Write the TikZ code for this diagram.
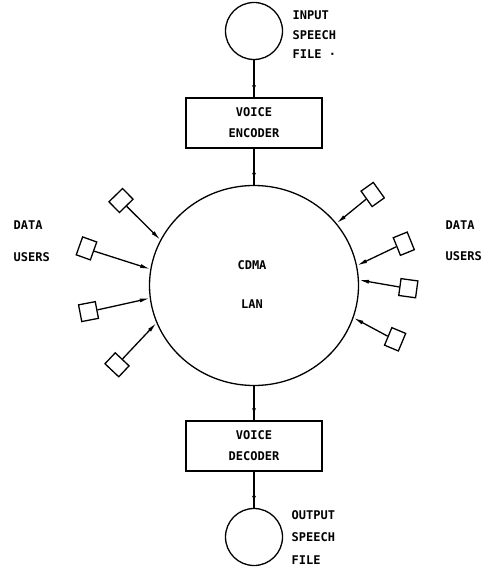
\documentclass[tikz,border=0pt]{standalone}
\usepackage{fontspec}
\usetikzlibrary{shapes.geometric,arrows.meta,decorations.markings}
\newfontfamily\monofam{DejaVu Sans Mono}
\newcommand\labfont{\monofam\bfseries\fontsize{12pt}{21pt}\selectfont}
\begin{document}
\begin{tikzpicture}[x=1pt,y=-1pt,
  line width=1.3pt,
  lbl/.style={font=\labfont, inner sep=0pt, anchor=west},
  ctext/.style={font=\labfont, inner sep=0pt},
  filecircle/.style={draw, circle, minimum size=57pt, inner sep=0pt},
  codecbox/.style={draw, rectangle, minimum width=136pt, minimum height=50pt, inner sep=0pt, align=center, font=\labfont},
  ubox/.style={draw, rectangle, minimum width=15pt, minimum height=19pt, inner sep=0pt},
  sqbox/.style={draw, rectangle, minimum width=17pt, minimum height=17pt, inner sep=0pt},
  varrow/.style={postaction={decorate}, decoration={markings, mark=at position -6pt with {\arrow{Latex[length=6pt,width=4pt]}}}},
  uarrow/.style={-{Latex[length=10pt,width=4pt]}}
]
\useasboundingbox (0,0) rectangle (489,569);

% main column
\node[filecircle] (in) at (254,31) {};
\node[codecbox] (enc) at (254,123) {VOICE\\ENCODER};
\node[draw, ellipse, minimum width=209pt, minimum height=200pt, inner sep=0pt] (lan) at (254,285.5) {};
\node[ctext] (cdma) at (252,265) {CDMA};
\node[ctext] (lantxt) at (252,304) {LAN};
\node[codecbox] (dec) at (254,446) {VOICE\\DECODER};
\node[filecircle] (out) at (254,537) {};

\draw[varrow] (in.south) -- (enc.north);
\draw[varrow] (enc.south) -- (lan.north);
\draw[varrow] (lan.south) -- (dec.north);
\draw[varrow] (dec.south) -- (out.north);

% file labels
\node[lbl] (inl1) at (292,15) {INPUT};
\node[lbl] (inl2) at (292,35) {SPEECH};
\node[lbl] (inl3) at (292,54) {FILE ·};
\node[lbl] (outl1) at (291,515) {OUTPUT};
\node[lbl] (outl2) at (291,537) {SPEECH};
\node[lbl] (outl3) at (291,560) {FILE};

% data users labels
\node[lbl] (dl1) at (13,225) {DATA};
\node[lbl] (dl2) at (13,257) {USERS};
\node[lbl] (dr1) at (445,225) {DATA};
\node[lbl] (dr2) at (445,256) {USERS};

% left users
\node[ubox, rotate=-45.6] (l1) at (121,200.5) {};
\node[ubox, rotate=-19.7] (l2) at (86.5,248.4) {};
\node[sqbox, rotate=10.8] (l3) at (88.5,311.6) {};
\node[ubox, rotate=46.7] (l4) at (117,364.8) {};
\draw[uarrow] (l1.east) -- (lan.154.4);
\draw[uarrow] (l2.east) -- (lan.171.9);
\draw[uarrow] (l3.east) -- (lan.187.5);
\draw[uarrow] (l4.east) -- (lan.201.7);

% right users
\node[ubox, rotate=215.5] (r1) at (372.7,194.5) {};
\node[ubox, rotate=202.1] (r2) at (403.8,243.7) {};
\node[sqbox, rotate=172.2] (r3) at (408.3,288.2) {};
\node[ubox, rotate=157.3] (r4) at (395.1,339.3) {};
\draw[uarrow] (r1.east) -- (lan.37.4);
\draw[uarrow] (r2.east) -- (lan.11.8);
\draw[uarrow] (r3.east) -- (lan.3.4);
\draw[uarrow] (r4.east) -- (lan.-18.5);
\end{tikzpicture}
\end{document}
